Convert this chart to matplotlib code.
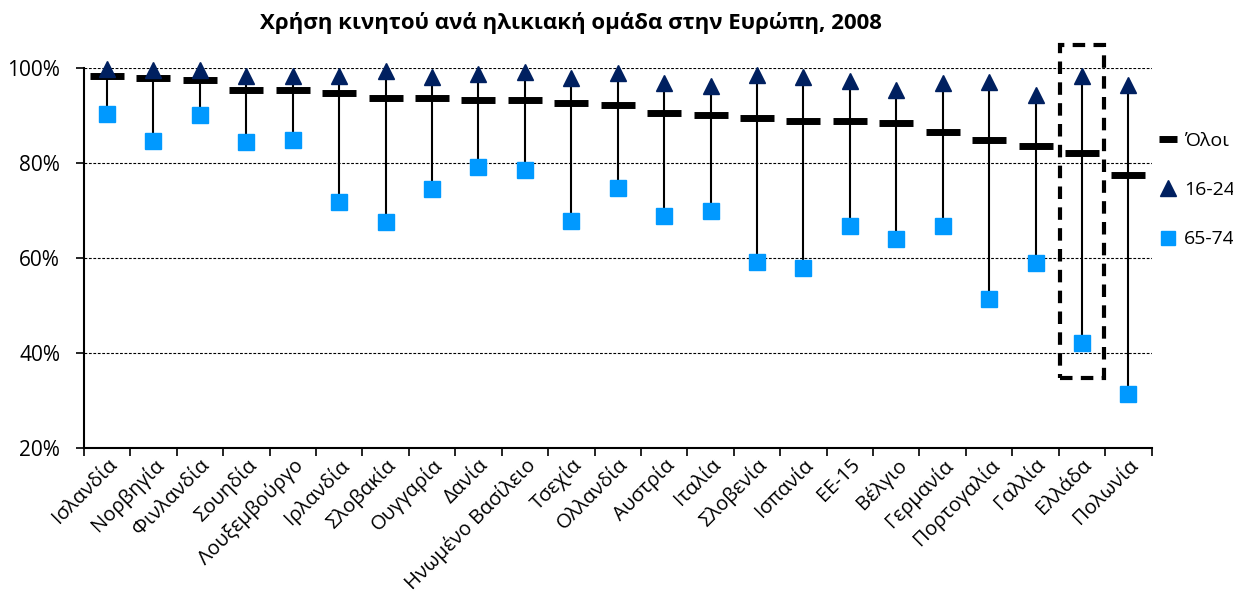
import numpy as np
import matplotlib.pyplot as plt
import matplotlib.transforms as mtransforms
from matplotlib.patches import Rectangle
from matplotlib.lines import Line2D
from matplotlib.ticker import FixedLocator, FuncFormatter

plt.rcParams['font.family'] = ['Open Sans', 'DejaVu Sans']

countries = ['Ισλανδία', 'Νορβηγία', 'Φινλανδία', 'Σουηδία', 'Λουξεμβούργο',
             'Ιρλανδία', 'Σλοβακία', 'Ουγγαρία', 'Δανία', 'Ηνωμένο Βασίλειο',
             'Τσεχία', 'Ολλανδία', 'Αυστρία', 'Ιταλία', 'Σλοβενία', 'Ισπανία',
             'ΕΕ-15', 'Βέλγιο', 'Γερμανία', 'Πορτογαλία', 'Γαλλία', 'Ελλάδα',
             'Πολωνία']
all_ages = [98.3, 97.9, 97.5, 95.4, 95.4, 94.7, 93.7, 93.7, 93.3, 93.3, 92.6,
            92.2, 90.5, 90.1, 89.5, 88.8, 88.8, 88.4, 86.5, 84.8, 83.6, 82.1,
            77.5]
young = [99.8, 99.6, 99.5, 98.3, 98.3, 98.3, 99.4, 98.1, 98.7, 99.2, 97.9,
         98.9, 96.8, 96.2, 98.5, 98.1, 97.3, 95.4, 96.8, 97.1, 94.3, 98.3,
         96.4]
old = [90.3, 84.6, 90.1, 84.4, 84.8, 71.8, 67.6, 74.5, 79.2, 78.5, 67.8,
       74.7, 68.8, 69.9, 59.2, 57.9, 66.7, 64.0, 66.7, 51.4, 58.9, 42.1, 31.4]

highlight = 'Ελλάδα'
navy = '#002060'
light = '#0099FF'

fig = plt.figure(figsize=(12.33, 6.15), dpi=100)
ax = fig.add_axes([0.068, 0.2715, 0.866, 0.618])

x = np.arange(len(countries))
ax.vlines(x, old, young, color='black', lw=1.5, zorder=2)
ax.plot(x, all_ages, ls='none', marker='_', ms=24, mew=5, color='black',
        zorder=3, clip_on=False)
ax.plot(x, young, ls='none', marker='^', ms=12, color=navy,
        zorder=4, clip_on=False)
ax.plot(x, old, ls='none', marker='s', ms=11.5, color=light,
        zorder=4, clip_on=False)

# dashed box around Greece
gi = countries.index(highlight)
ax.add_patch(Rectangle((gi - 0.47, 34.7), 0.94, 70.1, fill=False,
                       ec='black', lw=3, ls=(0, (3, 2)), clip_on=False,
                       zorder=5))

ax.set_xlim(-0.5, len(countries) - 0.5)
ax.set_ylim(20, 100)
ax.set_yticks([20, 40, 60, 80, 100])
ax.yaxis.set_major_formatter(FuncFormatter(lambda v, p: f'{v:.0f}%'))
ax.yaxis.grid(True, color='black', ls=(0, (2.5, 1.5)), lw=0.8)
ax.set_axisbelow(True)

ax.set_xticks(x)
ax.set_xticklabels(countries, rotation=45, ha='right', rotation_mode='anchor',
                   fontsize=14.5)
shift = mtransforms.ScaledTranslation(14 / 100, 0, fig.dpi_scale_trans)
for lab in ax.get_xticklabels():
    lab.set_transform(lab.get_transform() + shift)
ax.tick_params(axis='x', which='major', length=0, pad=5)
ax.xaxis.set_minor_locator(FixedLocator(np.arange(-0.5, len(countries), 1)))
ax.tick_params(axis='x', which='minor', length=6, width=1.2, direction='out')
ax.tick_params(axis='y', labelsize=15, length=6, width=1.2, pad=11)

for s in ['top', 'right']:
    ax.spines[s].set_visible(False)
for s in ['left', 'bottom']:
    ax.spines[s].set_linewidth(1.5)

fig.text(0.463, 0.963, 'Χρήση κινητού ανά ηλικιακή ομάδα στην Ευρώπη, 2008',
         fontsize=16, fontweight='bold', ha='center', va='center')

handles = [
    Line2D([], [], ls='none', marker='_', ms=13, mew=5, color='black'),
    Line2D([], [], ls='none', marker='^', ms=11, color=navy),
    Line2D([], [], ls='none', marker='s', ms=10, color=light),
]
ax.legend(handles, ['Όλοι', '16-24', '65-74'], loc='upper left',
          bbox_to_anchor=(1.007, 0.831), frameon=False, fontsize=14,
          labelspacing=1.6, handlelength=0.9, handletextpad=0.4,
          borderpad=0, borderaxespad=0)

plt.savefig('out.png', dpi=100)
